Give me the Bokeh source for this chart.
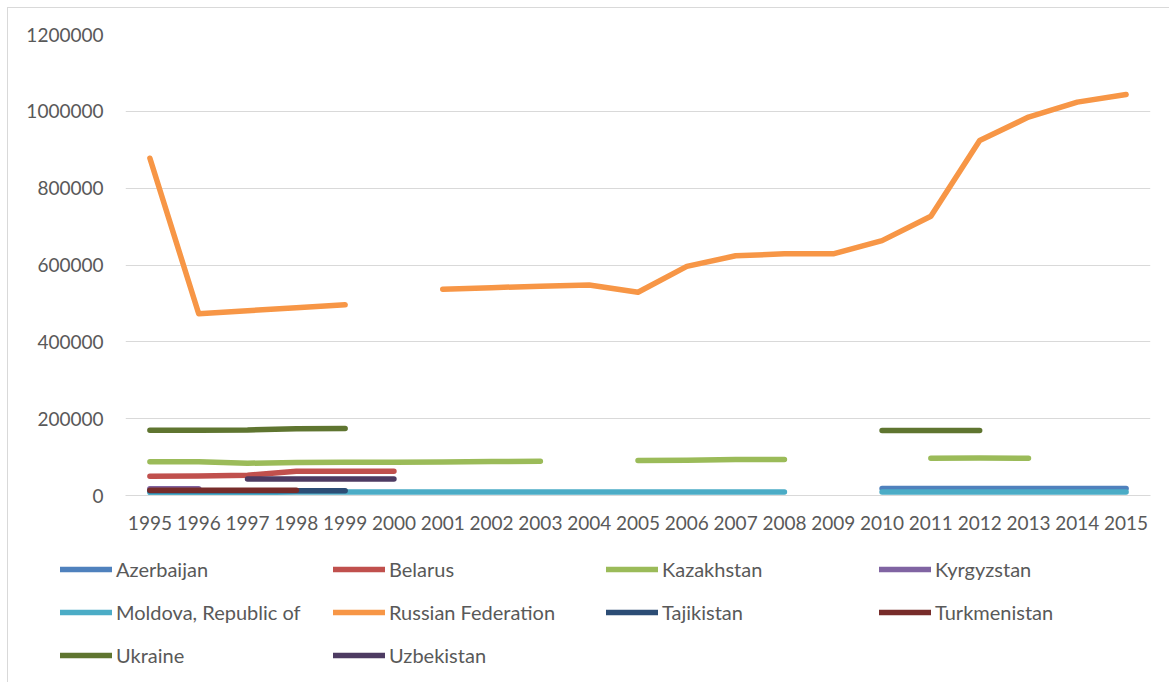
from bokeh.plotting import figure
from bokeh.models import FixedTicker, NumeralTickFormatter, Legend, LegendItem
from bokeh.embed import file_html
from bokeh.resources import INLINE

nan = float("nan")

years = [str(y) for y in range(1995, 2016)]

azerbaijan = [nan] * 15 + [18500, 18500, 18500, 18500, 18500, 18500]
belarus = [50000, 51000, 52500, 63000, 63000, 63000] + [nan] * 15
kazakhstan = [88000, 88000, 84000, 86000, 86500, 86500, 87500, 88500, 89000, nan,
              91000, 92000, 93500, 94000, nan, nan, 97000, 97500, 97000, nan, nan]
kyrgyzstan = [17500, 17500] + [nan] * 19
moldova = [8000, 8000, 8000, 9000, 9000, 9000, 9000, 9000, 9000, 9000,
           9000, 9000, 9000, 9000, nan, 9000, 9000, 9000, 9000, 9000, 9000]
russia = [878000, 473000, 481000, 489000, 496500, nan, 537000, 541000, 545000, 548000,
          529000, 596500, 624000, 629000, 629000, 663500, 727000, 924000, 985000,
          1024000, 1044000]
tajikistan = [12500, 12500, 12500, 12500, 12500] + [nan] * 16
turkmenistan = [13500, 13500, 13500, 13500] + [nan] * 17
ukraine = [170000, 170000, 170500, 174000, 174500] + [nan] * 10 + [169500, 169500, 169500] + [nan] * 3
uzbekistan = [nan, nan, 43000, 43000, 43000, 43000] + [nan] * 15

series = [
    ("Azerbaijan", azerbaijan, "#4F81BD"),
    ("Belarus", belarus, "#C0504D"),
    ("Kazakhstan", kazakhstan, "#9BBB59"),
    ("Kyrgyzstan", kyrgyzstan, "#8064A2"),
    ("Moldova, Republic of", moldova, "#4BACC6"),
    ("Russian Federation", russia, "#F79646"),
    ("Tajikistan", tajikistan, "#2C4D75"),
    ("Turkmenistan", turkmenistan, "#772C2A"),
    ("Ukraine", ukraine, "#5F7530"),
    ("Uzbekistan", uzbekistan, "#4D3B62"),
]

FONT = "Lato"
TEXT = "#595959"
GRID = "#d9d9d9"
W = 1162
LINE_W = 5.5

# --- chart area ---
p = figure(
    x_range=years, y_range=(0, 1200000),
    width=W, height=545,
    output_backend="svg", toolbar_location=None,
    min_border_left=117, min_border_top=26, min_border_right=20, min_border_bottom=58,
    styles={"margin-left": "7px", "margin-top": "7px",
            "border-left": f"1px solid {GRID}", "border-top": f"1px solid {GRID}"},
)
p.outline_line_color = None

for name, vals, color in series:
    p.line(years, vals, line_color=color, line_width=LINE_W,
           line_cap="round", line_join="round")

p.yaxis.ticker = FixedTicker(ticks=[0, 200000, 400000, 600000, 800000, 1000000, 1200000])
p.yaxis.formatter = NumeralTickFormatter(format="0")
p.yaxis.axis_line_color = None
p.yaxis.major_tick_line_color = None
p.yaxis.minor_tick_line_color = None
p.yaxis.major_label_standoff = 16
p.yaxis.major_label_text_font = FONT
p.yaxis.major_label_text_font_size = "19px"
p.yaxis.major_label_text_color = TEXT

p.xaxis.axis_line_color = GRID
p.xaxis.axis_line_width = 1
p.xaxis.major_tick_line_color = None
p.xaxis.minor_tick_line_color = None
p.xaxis.major_label_standoff = 14
p.xaxis.major_label_text_font = FONT
p.xaxis.major_label_text_font_size = "19px"
p.xaxis.major_label_text_color = TEXT

p.xgrid.grid_line_color = None
p.ygrid.grid_line_color = GRID
p.ygrid.grid_line_width = 1

# --- legend strip below the chart (its own root, so frames are not aligned) ---
lg = figure(
    width=W, height=130, x_range=(0, 1), y_range=(0, 1),
    output_backend="svg", toolbar_location=None,
    x_axis_location=None, y_axis_location=None,
    min_border=0,
    styles={"margin-left": "7px", "border-left": f"1px solid {GRID}"},
)
lg.outline_line_color = None
lg.grid.grid_line_color = None

items = []
for name, vals, color in series:
    # key swatch: same styling as the chart line, kept outside the visible range
    r = lg.line(x=[-2, -1], y=[-2, -1], line_color=color, line_width=LINE_W, line_cap="round")
    items.append(LegendItem(label=name, renderers=[r]))

legend = Legend(
    items=items, location=(52, 15),
    orientation="horizontal", ncols=4,
    glyph_width=52, glyph_height=20, label_height=20, label_width=198,
    spacing=19, padding=0, margin=0, label_standoff=4,
    label_text_font=FONT, label_text_font_size="20px", label_text_color=TEXT,
    border_line_color=None, background_fill_alpha=0,
)
lg.add_layout(legend, "center")

open("out.html", "w").write(file_html([p, lg], INLINE))
